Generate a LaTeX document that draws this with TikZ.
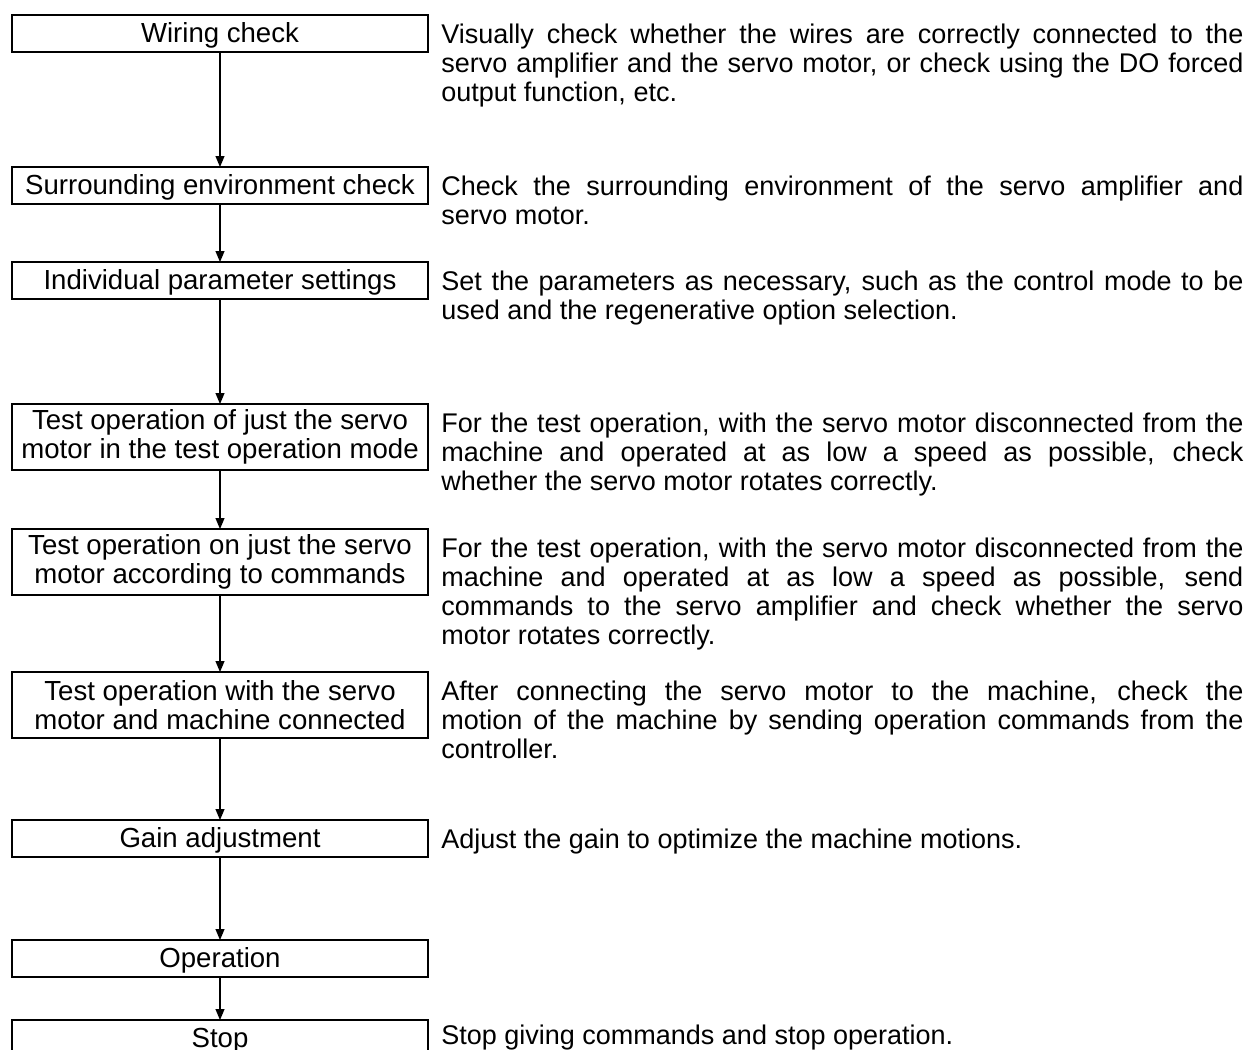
\documentclass[tikz,border=0pt]{standalone}
\usepackage{fontspec}
\setmainfont{Liberation Sans}
\usepackage{tikz}
\usetikzlibrary{arrows.meta,positioning}
\tolerance=9999
\hbadness=10000
\hyphenpenalty=10000

\begin{document}
\begin{tikzpicture}[font=\fontsize{13.5}{14.5}\selectfont,
      box/.style={draw, line width=1.3pt, minimum width=208pt, minimum height=18.5pt,
        inner ysep=1pt, outer sep=0pt, align=center, font=\fontsize{13.8}{14.5}\selectfont,
        execute at begin node={\rule{0pt}{12pt}}},
      tallbox/.style={box, minimum height=33pt},
      desc/.style={anchor=north west, inner sep=0pt, text width=401pt, align=justify,
        xshift=6.5pt, yshift=-4.5pt},
      flow/.style={-{Triangle[width=4.5pt,length=5.5pt]}, line width=0.6pt}]
    \useasboundingbox (0,0) rectangle (627.5pt,-525pt);
    % procedure boxes
    \node[box] (wire) at (110pt,-16.75pt) {Wiring check};
    \node[box, below=57.5pt of wire] (env) {Surrounding environment check};
    \node[box, below=29pt of env] (param) {Individual parameter settings};
    \node[tallbox, below=52.5pt of param] (testa) {Test operation of just the servo\\motor in the test operation mode};
    \node[tallbox, below=29.5pt of testa] (testb) {Test operation on just the servo\\motor according to commands};
    \node[tallbox, below=38.5pt of testb] (testc) {Test operation with the servo\\motor and machine connected};
    \node[box, below=41pt of testc] (gain) {Gain adjustment};
    \node[box, below=41.5pt of gain] (oper) {Operation};
    \node[box, below=21.5pt of oper] (stop) {Stop};
    % explanations
    \node[desc] (dwire) at (wire.north east) {Visually check whether the wires are correctly connected to the\linebreak
      servo amplifier and the servo motor, or check using the DO forced\linebreak
      output function, etc.};
    \node[desc] (denv) at (env.north east) {Check the surrounding environment of the servo amplifier and\linebreak
      servo motor.};
    \node[desc] (dparam) at (param.north east) {Set the parameters as necessary, such as the control mode to be\linebreak
      used and the regenerative option selection.};
    \node[desc] (dtesta) at (testa.north east) {For the test operation, with the servo motor disconnected from the\linebreak
      machine and operated at as low a speed as possible, check\linebreak
      whether the servo motor rotates correctly.};
    \node[desc] (dtestb) at (testb.north east) {For the test operation, with the servo motor disconnected from the\linebreak
      machine and operated at as low a speed as possible, send\linebreak
      commands to the servo amplifier and check whether the servo\linebreak
      motor rotates correctly.};
    \node[desc] (dtestc) at (testc.north east) {After connecting the servo motor to the machine, check the\linebreak
      motion of the machine by sending operation commands from the\linebreak
      controller.};
    \node[desc] (dgain) at (gain.north east) {Adjust the gain to optimize the machine motions.};
    \node[desc, yshift=2pt] (dstop) at (stop.north east) {Stop giving commands and stop operation.};
    % flow
    \draw[flow] (wire) -- (env);
    \draw[flow] (env) -- (param);
    \draw[flow] (param) -- (testa);
    \draw[flow] (testa) -- (testb);
    \draw[flow] (testb) -- (testc);
    \draw[flow] (testc) -- (gain);
    \draw[flow] (gain) -- (oper);
    \draw[flow] (oper) -- (stop);
  \end{tikzpicture}
\end{document}
